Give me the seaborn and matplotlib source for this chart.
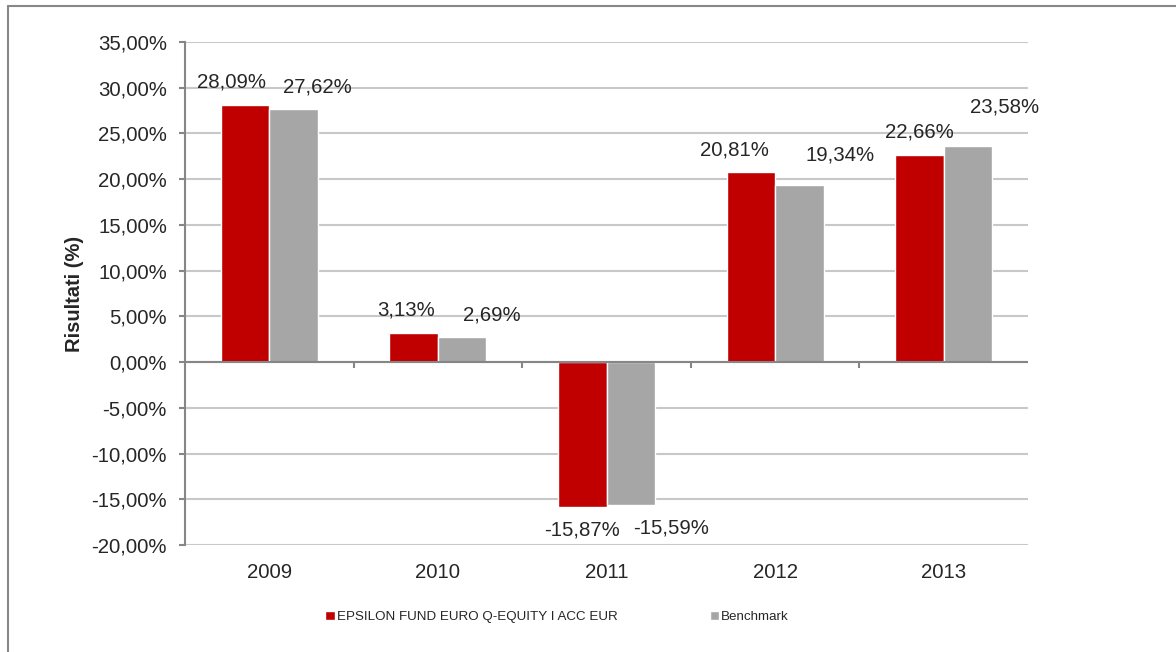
import matplotlib
matplotlib.use("Agg")
import matplotlib.pyplot as plt
import seaborn as sns
import pandas as pd
from matplotlib.lines import Line2D

# data
years = ["2009", "2010", "2011", "2012", "2013"]
fund_name = "EPSILON FUND EURO Q-EQUITY I ACC EUR"
bench_name = "Benchmark"
fund_values = [28.09, 3.13, -15.87, 20.81, 22.66]
bench_values = [27.62, 2.69, -15.59, 19.34, 23.58]
y_ticks = [-20, -15, -10, -5, 0, 5, 10, 15, 20, 25, 30, 35]

# label offsets in pixels (dx from bar centre, dy from bar end) - Excel placed them loosely
fund_offsets = [(-14, 23), (-8, 23), (0, -23), (-16, 22), (0, 23)]
bench_offsets = [(24, 22), (30, 22), (40, -23), (41, 30), (37, 39)]

df = pd.DataFrame({
    "year": years * 2,
    "value": fund_values + bench_values,
    "series": [fund_name] * len(years) + [bench_name] * len(years),
})

sns.set_style("white")
plt.rcParams['font.family'] = ['Liberation Sans', 'DejaVu Sans']

fs = 14.7

fig = plt.figure(figsize=(11.76, 6.52), dpi=100)
ax = fig.add_axes([185 / 1176, 1 - 545 / 652, (1028 - 185) / 1176, (545 - 42) / 652])

palette = {fund_name: "#C00000", bench_name: "#A6A6A6"}
sns.barplot(data=df, x="year", y="value", hue="series", palette=palette,
            width=0.575, gap=0, saturation=1, ax=ax, legend=True)

ax.set_xlim(-0.5, len(years) - 0.5)
ax.set_ylim(-20, 35)
ax.set_yticks(y_ticks)
ax.set_yticklabels([f"{v:.2f}%".replace(".", ",") for v in y_ticks], fontsize=fs)
ax.yaxis.grid(True, color="#C8C8C8", linewidth=1.5)
ax.set_axisbelow(True)
ax.tick_params(axis="y", direction="out", length=4, width=1.5, color="#868686", pad=9, left=True)
ax.tick_params(axis="x", length=0, pad=13, labelsize=fs)
for s in ["top", "right", "bottom"]:
    ax.spines[s].set_visible(False)
ax.spines["left"].set_color("#868686")
ax.spines["left"].set_linewidth(1.5)
ax.set_xlabel("")
ax.set_ylabel("Risultati (%)", fontsize=14.5, fontweight="bold", labelpad=5)

# zero axis with category separators
ax.axhline(0, color="#868686", linewidth=1.5, zorder=3)
zero_ax = ax.secondary_xaxis(20 / 55)
zero_ax.set_xticks([i + 0.5 for i in range(len(years) - 1)])
zero_ax.set_xticklabels([])
zero_ax.tick_params(direction="out", length=4, width=1.5, color="#868686")
zero_ax.spines["bottom"].set_visible(False)

# value labels
for container, vals, offs in zip(ax.containers, [fund_values, bench_values], [fund_offsets, bench_offsets]):
    for bar, v, (dx, dy) in zip(container, vals, offs):
        cx = bar.get_x() + bar.get_width() / 2
        ax.annotate(f"{v:.2f}%".replace(".", ","), (cx, v), xytext=(dx, dy),
                    textcoords="offset pixels", ha="center", va="center", fontsize=fs)

# legend at the bottom
handles, labels = ax.get_legend_handles_labels()
ax.get_legend().remove()
fig.legend(handles, labels, loc="center", bbox_to_anchor=(557 / 1176, 1 - 617 / 652),
           ncol=2, frameon=False, fontsize=9.6, handlelength=0.7, handleheight=0.7,
           handletextpad=0.15, columnspacing=6.9)

# outer border of the chart area
fig.add_artist(Line2D([8 / 1176, 8 / 1176], [0, 1 - 6 / 652], color="#888888", linewidth=1.5))
fig.add_artist(Line2D([8 / 1176, 1], [1 - 6 / 652, 1 - 6 / 652], color="#888888", linewidth=1.5))

fig.savefig("out.png", dpi=100)
